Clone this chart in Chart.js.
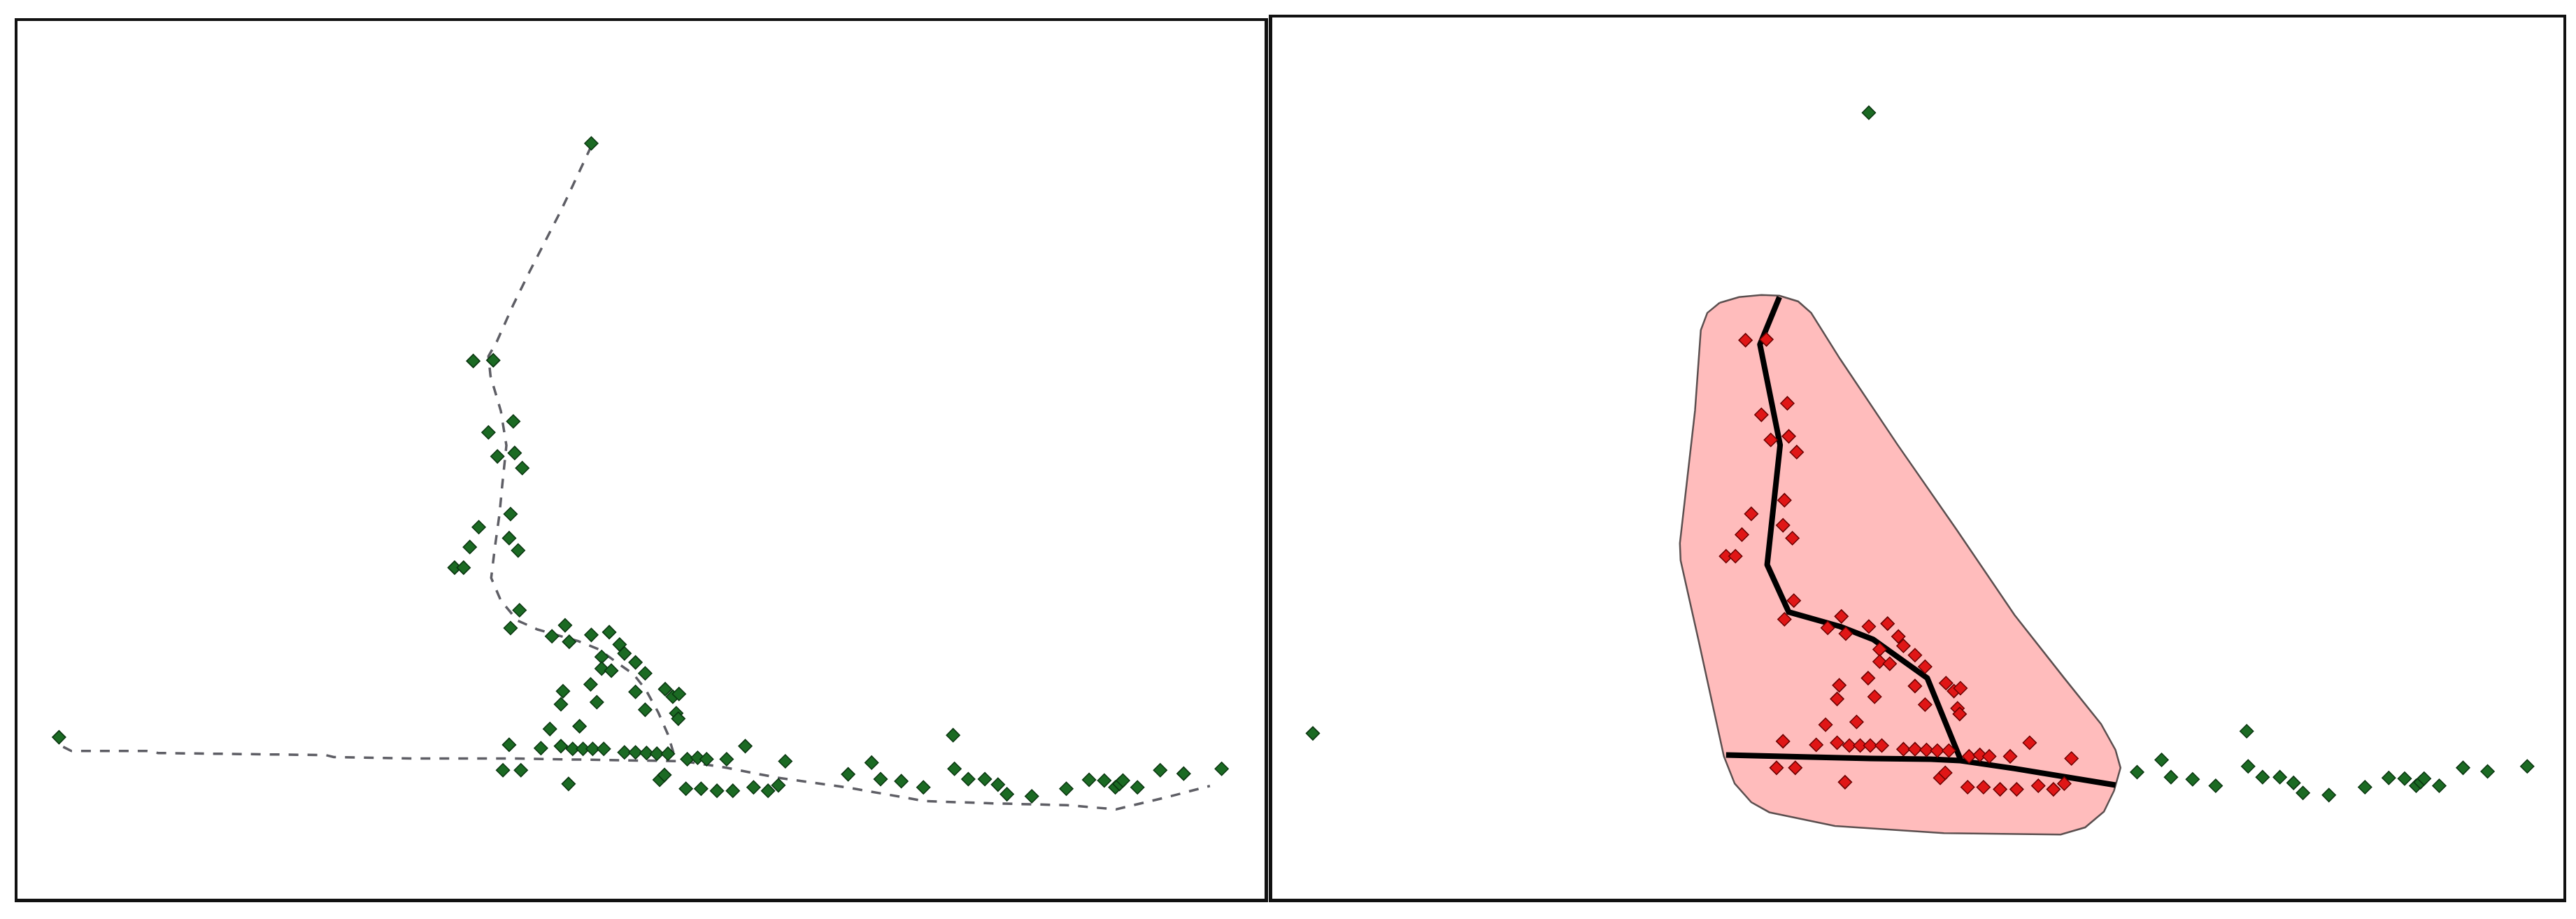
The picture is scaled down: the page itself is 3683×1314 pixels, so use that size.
<!DOCTYPE html>
<html>
<head>
<meta charset="utf-8">
<script src="https://cdn.jsdelivr.net/npm/chart.js@4"></script>
<style>
    html, body { margin: 0; padding: 0; background: #fff; }
    body { width: 3683px; height: 1314px; position: relative; overflow: hidden; }
    .panel { position: absolute; box-sizing: border-box; border: 4px solid #111; background: #fff; }
    #leftPanel { left: 21px; top: 26px; width: 1792px; height: 1264px; border-width: 4px 5px 5px 4px; }
    #rightPanel { left: 1814px; top: 21px; width: 1855px; height: 1269px; border-width: 4px 4px 5px 5px; }
    .panel canvas { display: block; }
</style>
</head>
<body>
<div class="panel" id="leftPanel"><canvas id="leftChart" width="1783" height="1255"></canvas></div>
<div class="panel" id="rightPanel"><canvas id="rightChart" width="1846" height="1260"></canvas></div>

<script>
// points inside the hull (red in the right panel)
const corePoints = [
    [651, 773], [680, 774], [709, 685], [673, 669], [686, 634], [711, 639], [722, 617],
    [705, 550], [659, 531], [646, 502], [703, 515], [716, 497], [624, 472], [637, 472],
    [718, 410], [705, 384], [784, 388], [765, 372], [790, 364], [822, 374], [848, 378],
    [863, 360], [870, 347], [837, 342], [837, 325], [851, 322], [886, 334], [900, 318],
    [821, 302], [781, 292], [778, 273], [830, 276], [886, 291], [900, 265], [929, 295],
    [940, 284], [949, 288], [945, 260], [948, 252], [762, 237], [805, 241],
    [703, 214], [749, 209], [778, 212], [795, 208], [810, 208], [824, 208], [840, 208],
    [870, 203], [886, 203], [902, 202], [917, 201], [933, 201],
    [694, 177], [720, 177], [789, 157], [961, 193], [976, 195], [989, 193], [1018, 193],
    [1045, 212], [1103, 190], [921, 163], [928, 170],
    [959, 150], [981, 150], [1004, 147], [1027, 147], [1057, 152], [1078, 147], [1093, 155]
];

// points outside the hull (green in both panels)
const outerPoints = [
    [822, 1090], [51, 225],
    [1194, 171], [1228, 188], [1241, 164], [1271, 161], [1303, 152],
    [1346, 228], [1348, 179], [1368, 164], [1392, 164], [1411, 156], [1424, 142], [1460, 139],
    [1510, 150], [1543, 163], [1565, 162], [1581, 152], [1587, 157], [1592, 162], [1613, 152],
    [1646, 177], [1680, 172], [1735, 179]
];

// dashed curves, left panel
const curveVertical = [
    [822, 1086], [779, 994], [732, 902], [709, 855], [685, 801], [673, 780], [676, 751],
    [691, 700], [699, 650], [693, 592], [689, 550], [682, 499], [677, 457], [691, 424],
    [715, 395], [744, 382], [803, 365], [833, 353], [860, 333], [883, 317], [901, 294],
    [919, 261], [933, 229], [942, 199]
];
const curveHorizontal = [
    [57, 211], [69, 205], [178, 205], [195, 202], [437, 199], [449, 196], [567, 194],
    [709, 194], [956, 190], [1015, 181], [1092, 166], [1192, 152], [1305, 132],
    [1393, 129], [1511, 126], [1582, 120], [1653, 137], [1718, 154]
];

// solid curves, right panel
const fitVertical = [
    [698, 833], [671, 767], [699, 627], [681, 460], [711, 394], [782, 374],
    [828, 356], [903, 302], [949, 189]
];
const fitHorizontal = [
    [624, 195], [742, 192], [825, 190], [908, 189], [949, 187], [1024, 176], [1164, 153]
];

// hull outline, right panel
const hullVertices = [
    [615, 825], [642, 833], [673, 836], [698, 835], [724, 827], [742, 811], [782, 747],
    [862, 627], [943, 510], [1024, 390], [1093, 302], [1144, 238], [1164, 202], [1171, 177],
    [1162, 145], [1148, 116], [1122, 94], [1088, 84], [926, 86], [775, 96], [684, 115],
    [659, 129], [636, 155], [621, 193], [586, 354], [561, 466], [560, 490], [581, 675],
    [589, 787], [598, 811], [615, 825]
];

const toXY = pts => pts.map(([x, y]) => ({ x, y }));

const GREEN = '#1b6a23';
const GREEN_EDGE = '#0a3510';
const RED = '#e01616';
const RED_EDGE = '#6a0000';

function pointSet(pts, fill, edge) {
    return {
        data: toXY(pts),
        pointStyle: 'rectRot',
        pointRadius: 9.5,
        pointBackgroundColor: fill,
        pointBorderColor: edge,
        pointBorderWidth: 1.5,
        showLine: false,
        order: 0
    };
}

function lineSet(pts, opts) {
    return Object.assign({
        data: toXY(pts),
        showLine: true,
        pointRadius: 0,
        tension: 0,
        fill: false,
        order: 1
    }, opts);
}

function baseOptions(xMin, xMax, yMin, yMax) {
    return {
        responsive: false,
        animation: false,
        layout: { padding: 0 },
        plugins: { legend: { display: false }, tooltip: { enabled: false } },
        scales: {
            x: { type: 'linear', display: false, min: xMin, max: xMax },
            y: { type: 'linear', display: false, min: yMin, max: yMax }
        }
    };
}

// Left panel: all points green, dashed gray curves
const dashStyle = { borderColor: '#5e5e65', borderWidth: 3.5, borderDash: [14, 13] };
new Chart(document.getElementById('leftChart'), {
    type: 'scatter',
    data: {
        datasets: [
            pointSet(corePoints, GREEN, GREEN_EDGE),
            pointSet(outerPoints, GREEN, GREEN_EDGE),
            lineSet(curveVertical, dashStyle),
            lineSet(curveHorizontal, dashStyle)
        ]
    },
    options: baseOptions(2, 1786, 1, 1257)
});

// Right panel: hull, solid black curves, red/green points
const solidStyle = { borderColor: '#000', borderWidth: 8, borderJoinStyle: 'round', borderCapStyle: 'butt' };
new Chart(document.getElementById('rightChart'), {
    type: 'scatter',
    data: {
        datasets: [
            pointSet(corePoints, RED, RED_EDGE),
            pointSet(outerPoints, GREEN, GREEN_EDGE),
            lineSet(fitVertical, solidStyle),
            lineSet(fitHorizontal, solidStyle),
            lineSet(hullVertices, {
                borderColor: '#5b4f4f',
                borderWidth: 2.5,
                backgroundColor: '#ffbcbc',
                fill: 'shape',
                order: 2
            })
        ]
    },
    options: baseOptions(5.4, 1774.5, 5.3, 1212)
});
</script>
</body>
</html>
